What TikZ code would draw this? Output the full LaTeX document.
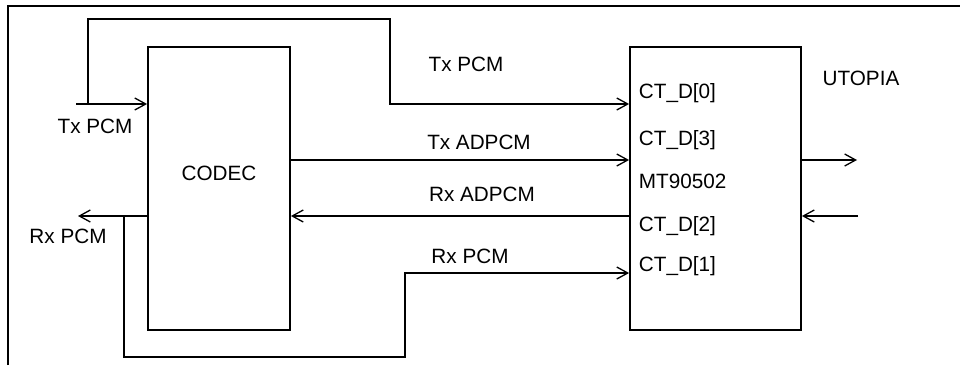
\documentclass[tikz,border=0pt]{standalone}
\usepackage{fontspec}
\setmainfont{Liberation Sans}
\usetikzlibrary{arrows.meta}
\begin{document}
\begin{tikzpicture}[x=1pt,y=-1pt,
  line width=1.8pt,
  arr/.style={-{Straight Barb[length=11pt,width=12pt,line width=1.3pt]}},
  blockbox/.style={draw,line width=1.8pt,inner sep=0pt},
  lbl/.style={font=\fontsize{20.7}{24}\selectfont,inner sep=0pt},
  lbll/.style={lbl,anchor=west}]
\useasboundingbox (0,0) rectangle (960,365);
% open frame
\draw (8,365) -- (8,6) -- (960,6);
% blocks
\node[blockbox,minimum width=142pt,minimum height=283pt] (codec) at (219,188.5) {};
\node[blockbox,minimum width=171pt,minimum height=283pt] (mt) at (715.5,188.5) {};
\node[lbl] (codeclbl) at (219,173) {CODEC};
% inner labels of MT90502
\node[lbll] (d0) at (638,93) {CT\_D[0]};
\node[lbll] (d3) at (638,140) {CT\_D[3]};
\node[lbll] (mtl) at (638,181) {MT90502};
\node[lbll] (d2) at (638,226) {CT\_D[2]};
\node[lbll] (d1) at (638,266) {CT\_D[1]};
\node[lbl] (utopia) at (861,78) {UTOPIA};
% coordinates
\coordinate (txin) at (76,104);
\coordinate (tap) at (88,104);
\coordinate (rxout) at (78,216);
\coordinate (rtap) at (124,216);
\coordinate (uout) at (857,160);
\coordinate (uin) at (858,216);
% Tx PCM input and loop
\draw[arr] (txin) -- (codec.west |- txin);
\draw[arr] (tap) -- (88,19) -- (390,19) -- (390,104) -- (mt.west |- tap);
% Tx ADPCM
\draw[arr] (codec.east |- uout) -- (mt.west |- uout);
% Rx ADPCM
\draw[arr] (mt.west |- rtap) -- (codec.east |- rtap);
% Rx PCM out
\draw[arr] (codec.west |- rtap) -- (rxout);
% Rx PCM loop
\draw[arr] (rtap) -- (124,357) -- (405,357) -- (405,273) -- (mt.west |- 0,273);
% UTOPIA
\draw[arr] (mt.east |- uout) -- (uout);
\draw[arr] (uin) -- (mt.east |- uin);
% labels
\node[lbl] (ltx1) at (95,126) {Tx PCM};
\node[lbl] (lrx1) at (68,236) {Rx PCM};
\node[lbl] (ltx2) at (466,64) {Tx PCM};
\node[lbl] (ltxad) at (479,142) {Tx ADPCM};
\node[lbl] (lrxad) at (482,194) {Rx ADPCM};
\node[lbl] (lrx2) at (470,256) {Rx PCM};
\end{tikzpicture}
\end{document}
